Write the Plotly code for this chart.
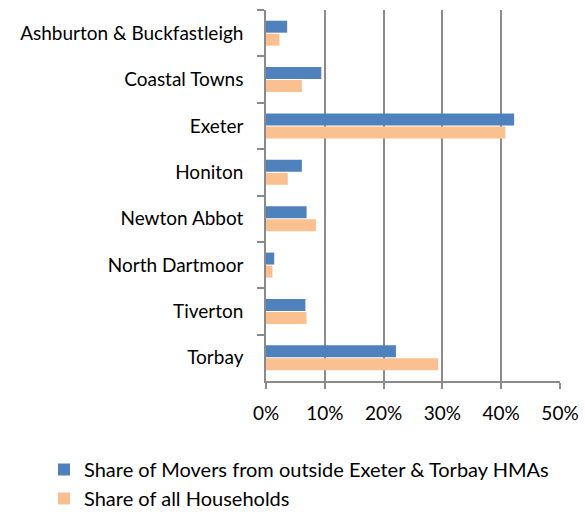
import plotly.graph_objects as go

categories = ["Ashburton & Buckfastleigh", "Coastal Towns", "Exeter", "Honiton",
              "Newton Abbot", "North Dartmoor", "Tiverton", "Torbay"]
movers = [3.6, 9.4, 42.2, 6.1, 6.9, 1.4, 6.7, 22.1]
households = [2.3, 6.1, 40.7, 3.7, 8.5, 1.1, 6.9, 29.3]
series_names = ["Share of Movers from outside Exeter & Torbay HMAs", "Share of all Households"]
tick_vals = [0, 10, 20, 30, 40, 50]
tick_text = ["0%", "10%", "20%", "30%", "40%", "50%"]

FONT = "Lato"
FS = 19
GRID = "#8a8a8a"
L, R, T, B = 266, 25, 10, 133
PW, PH = 585 - L - R, 514 - T - B

fig = go.Figure()
fig.add_trace(go.Bar(y=categories, x=movers, name=series_names[0], orientation="h",
                     marker=dict(color="#4F81BD", line=dict(width=0))))
fig.add_trace(go.Bar(y=categories, x=households, name=series_names[1], orientation="h",
                     marker=dict(color="#FAC090", line=dict(width=0))))

fig.update_layout(
    width=585, height=514,
    margin=dict(l=L, r=R, t=T, b=B, autoexpand=False),
    paper_bgcolor="white", plot_bgcolor="white",
    barmode="group", bargap=0.44, bargroupgap=0.08,
    font=dict(family=FONT, size=FS, color="#000000"),
    showlegend=True,
    legend=dict(x=(44 - L) / PW, y=(T + PH - 450) / PH,
                xanchor="left", yanchor="top", orientation="v",
                font=dict(family=FONT, size=20), tracegroupgap=0, itemwidth=30),
    xaxis=dict(range=[0, 50], tickvals=tick_vals, ticktext=tick_text, tickangle=0,
               showgrid=True, gridcolor=GRID, gridwidth=1.5,
               showline=True, linecolor=GRID, linewidth=1.5,
               ticks="outside", ticklen=6, tickcolor=GRID, tickwidth=1.5,
               ticklabelstandoff=8,
               zeroline=False, tickfont=dict(size=FS), automargin=False),
    yaxis=dict(autorange="reversed", showline=True, linecolor=GRID, linewidth=1.5,
               ticks="outside", ticklen=7, tickcolor=GRID, tickwidth=1.5,
               ticklabelstandoff=17,
               tickson="boundaries", showgrid=False, tickfont=dict(size=FS),
               automargin=False),
)

fig.write_html("out.html", config={"displayModeBar": False},
               post_script="document.body.style.margin='0';document.body.style.overflow='hidden';")
